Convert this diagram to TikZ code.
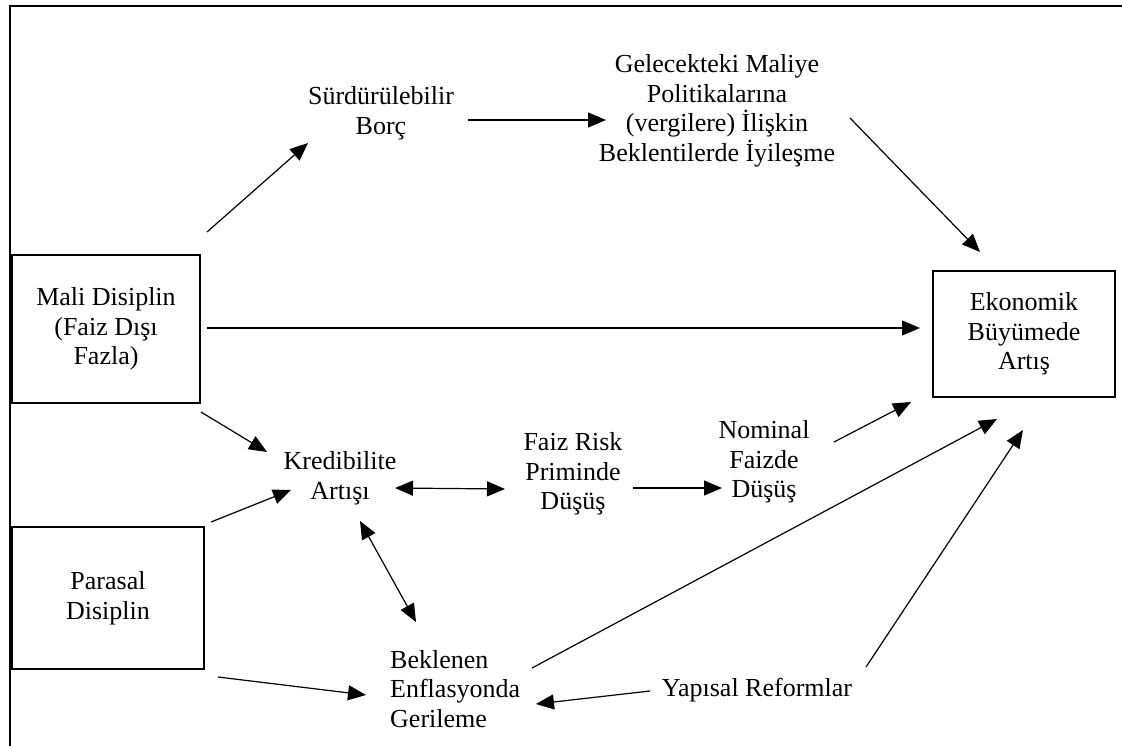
\documentclass[tikz,border=0pt]{standalone}
\usepackage{fontspec}
\setmainfont{Liberation Serif}
\usetikzlibrary{arrows.meta}
\tikzset{
  txt/.style={inner sep=0pt, align=center, font=\fontsize{26}{29.5}\selectfont},
  boxnode/.style={draw, line width=1.5pt, inner sep=0pt, align=center, font=\fontsize{26}{29.5}\selectfont},
  conn/.style={line width=1.2pt, -{Triangle[length=18pt,width=15pt]}},
  dconn/.style={line width=1.2pt, {Triangle[length=18pt,width=15pt]}-{Triangle[length=18pt,width=15pt]}},
  framel/.style={line width=2pt}
}
\begin{document}
\begin{tikzpicture}[x=1pt,y=-1pt]
\useasboundingbox (0,0) rectangle (1122,745);
\fill[white] (0,0) rectangle (1122,745);
\draw[framel] (10,746) -- (10,6) -- (1123,6);

\node[boxnode, minimum width=188pt, minimum height=148pt] (mali) at (106,329) {Mali Disiplin\\(Faiz Dışı\\Fazla)};
\node[boxnode, minimum width=192pt, minimum height=142pt] (para) at (108,598) {Parasal\\Disiplin};
\node[boxnode, minimum width=182pt, minimum height=126pt] (eko) at (1024,334) {Ekonomik\\Büyümede\\Artış};

\node[txt] (surd) at (381,113) {Sürdürülebilir\\Borç};
\node[txt] (gel) at (717,111) {Gelecekteki Maliye\\Politikalarına\\(vergilere) İlişkin\\Beklentilerde İyileşme};
\node[txt] (kred) at (340,478) {Kredibilite\\Artışı};
\node[txt] (faiz) at (573,474) {Faiz Risk\\Priminde\\Düşüş};
\node[txt] (nom) at (764,462) {Nominal\\Faizde\\Düşüş};
\node[txt, align=left, anchor=west] (bekl) at (390,689) {Beklenen\\Enflasyonda\\Gerileme};
\node[txt] (yap) at (757,690) {Yapısal Reformlar};

\draw[conn] ([shift={(101,-97)}]mali.center) -- ([shift={(-73,30)}]surd.center);
\draw[conn] ([shift={(87,7)}]surd.center) -- ([shift={(-111,9)}]gel.center);
\draw[conn] ([shift={(133,7)}]gel.center) -- ([shift={(-44,-82)}]eko.center);
\draw[conn] ([shift={(101,-1)}]mali.center) -- ([shift={(-104,-6)}]eko.center);
\draw[conn] ([shift={(95,83)}]mali.center) -- ([shift={(-73,-26)}]kred.center);
\draw[conn] ([shift={(103,-76)}]para.center) -- ([shift={(-49,12)}]kred.center);
\draw[dconn] ([shift={(55,10)}]kred.center) -- ([shift={(-68,15)}]faiz.center);
\draw[conn] ([shift={(60,14)}]faiz.center) -- ([shift={(-42,26)}]nom.center);
\draw[conn] ([shift={(70,-20)}]nom.center) -- ([shift={(-113,68)}]eko.center);
\draw[dconn] ([shift={(20,43)}]kred.center) -- ([shift={(26,-67)}]bekl.west);
\draw[conn] ([shift={(110,79)}]para.center) -- ([shift={(-24,6)}]bekl.west);
\draw[conn] ([shift={(142,-21)}]bekl.west) -- ([shift={(-27,85)}]eko.center);
\draw[conn] ([shift={(-107,1)}]yap.center) -- ([shift={(146,15)}]bekl.west);
\draw[conn] ([shift={(109,-23)}]yap.center) -- ([shift={(-1,96)}]eko.center);
\end{tikzpicture}
\end{document}
